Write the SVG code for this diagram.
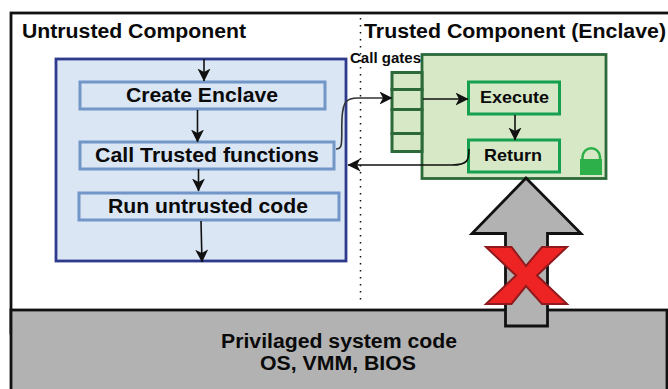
<svg xmlns="http://www.w3.org/2000/svg" width="668" height="389" viewBox="0 0 668 389">
<style>
text{font-family:"Liberation Sans",Arial,sans-serif;font-weight:bold;fill:#0a0a0a;text-anchor:middle;font-size:20px}
.s{font-size:17px}
.g{font-size:14px}
.step{fill:#dae6f4;stroke:#7296c8;stroke-width:3}
.gate{fill:#d6e8c6;stroke:#2c6a3a;stroke-width:3}
.in{fill:#d6e8c6;stroke:#14a04e;stroke-width:3}
.c{fill:none;stroke:#111;stroke-width:1.600}
</style>
<defs>
<marker id="a" markerUnits="userSpaceOnUse" markerWidth="14" markerHeight="14" refX="12.500" refY="6.500" orient="auto"><path d="M0 0L13 6.500L0 13L3.500 6.500Z" fill="#111"/></marker>
</defs>
<g id="frame">
<rect x="11" y="13" width="670" height="320" fill="#fff" stroke="#111" stroke-width="2.800"/>
<line x1="360.500" y1="18" x2="360.500" y2="305" stroke="#111" stroke-width="1.500" stroke-dasharray="1.500 5.500"/>
<text x="134" y="37.500" textLength="224" lengthAdjust="spacingAndGlyphs">Untrusted Component</text>
<text x="515" y="37.500" textLength="302" lengthAdjust="spacingAndGlyphs">Trusted Component (Enclave)</text>
</g>
<g id="privileged">
<rect x="11" y="310" width="656" height="85" fill="#b2b2b2" stroke="#111" stroke-width="2.800"/>
<text x="339" y="347.500" textLength="236" lengthAdjust="spacingAndGlyphs">Privilaged system code</text>
<text x="338" y="369.500" textLength="156" lengthAdjust="spacingAndGlyphs">OS, VMM, BIOS</text>
</g>
<g id="untrusted">
<rect x="56" y="59" width="290" height="202" fill="#dae6f4" stroke="#2e3a8c" stroke-width="2.800"/>
</g>
<g id="create-enclave"><rect class="step" x="80" y="82" width="245" height="27"/><text x="202" y="101.500" textLength="152" lengthAdjust="spacingAndGlyphs">Create Enclave</text></g>
<g id="call-trusted"><rect class="step" x="80" y="142" width="254" height="27"/><text x="207" y="161.500" textLength="224" lengthAdjust="spacingAndGlyphs">Call Trusted functions</text></g>
<g id="run-untrusted"><rect class="step" x="79" y="193" width="260" height="27"/><text x="208" y="212.500" textLength="200" lengthAdjust="spacingAndGlyphs">Run untrusted code</text></g>
<g id="enclave"><rect x="422" y="54.500" width="184" height="124" fill="#d6e8c6" stroke="#2c6a3a" stroke-width="2.800"/></g>
<g id="gates">
<rect class="gate" x="392" y="72.500" width="30" height="17"/>
<rect class="gate" x="392" y="89.500" width="30" height="20"/>
<rect class="gate" x="392" y="109.500" width="30" height="24"/>
<rect class="gate" x="392" y="133.500" width="30" height="18"/>
<text x="385.500" y="62.500" class="g" textLength="71" lengthAdjust="spacingAndGlyphs">Call gates</text>
</g>
<g id="execute"><rect class="in" x="468.500" y="82" width="91" height="32"/><text x="514.500" y="102.500" class="s" textLength="69" lengthAdjust="spacingAndGlyphs">Execute</text></g>
<g id="return"><rect class="in" x="468.500" y="140" width="91" height="32"/><text x="513" y="161" class="s" textLength="58" lengthAdjust="spacingAndGlyphs">Return</text></g>
<g id="lock">
<path d="M582.500 160V157a8.750 8.750 0 0 1 17.500 0V160" fill="none" stroke="#2db04a" stroke-width="2.500"/>
<rect x="580" y="159" width="22" height="16" fill="#2db04a"/>
</g>
<g id="connectors">
<path class="c" d="M204 59V81" marker-end="url(#a)"/>
<path class="c" d="M197.500 110V142" marker-end="url(#a)"/>
<path class="c" d="M198.500 169V191" marker-end="url(#a)"/>
<path class="c" d="M201 221L202 262" marker-end="url(#a)"/>
<path class="c" d="M336 149C344 149 341 140 342 118C343 102 346 98 358 98H392" marker-end="url(#a)" style="stroke:#333"/>
<path class="c" d="M423 99H468" marker-end="url(#a)"/>
<path class="c" d="M515 115V140" marker-end="url(#a)"/>
<path class="c" d="M469 149C469 160 468 165 452 165H348" marker-end="url(#a)"/>
</g>
<g id="blocked">
<path d="M505.500 326V233.500H472L526 178L581 233.500H547.500V326Z" fill="#b2b2b2" stroke="#111" stroke-width="2.800"/>
<path d="M486 247H511.500L526 266L542 247H567L537 275.500L567 304H542L526 286L511.500 304H486L516 275.500Z" fill="#ee2424" stroke="#8e1a1e" stroke-width="2"/>
</g>
</svg>
